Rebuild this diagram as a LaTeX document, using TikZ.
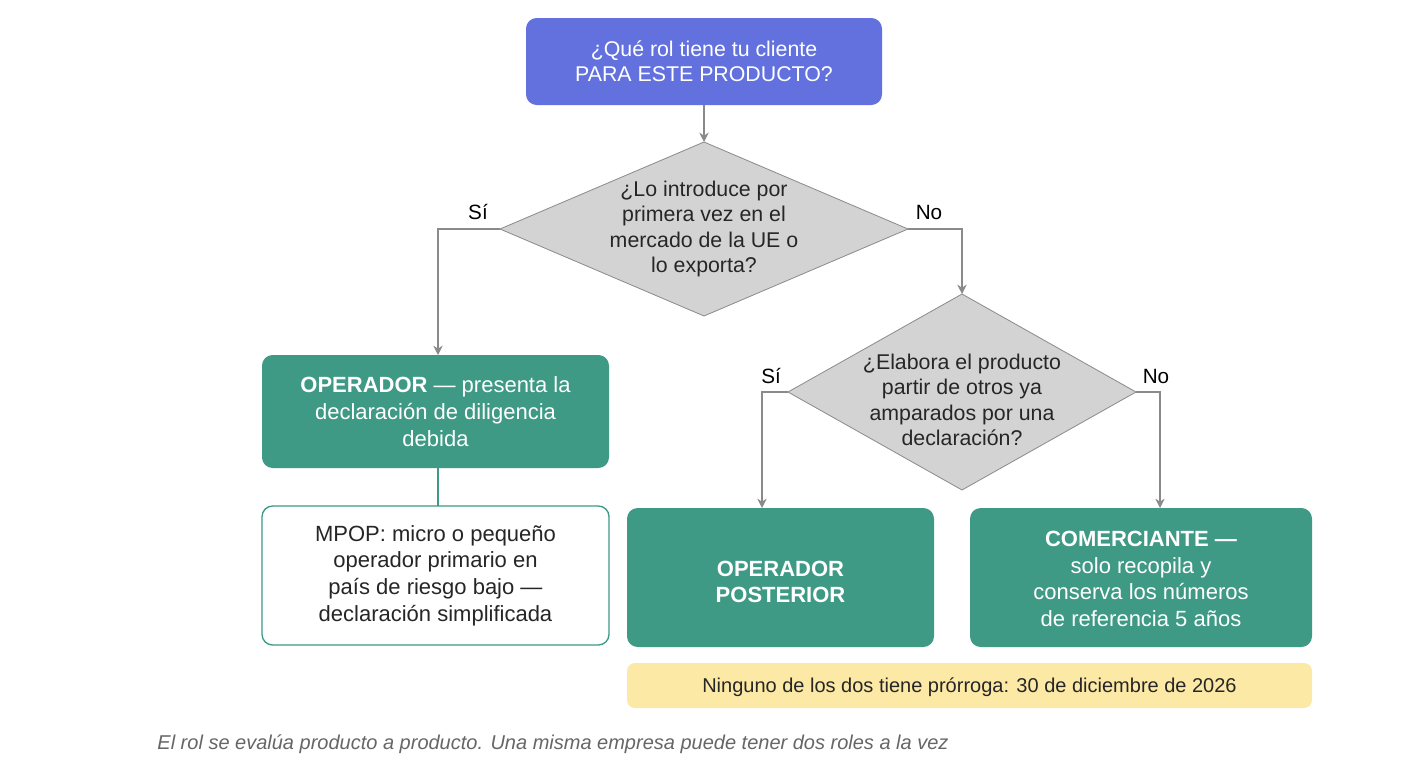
\documentclass[tikz,border=0pt]{standalone}
\usepackage{fontspec}
\setmainfont{Liberation Sans}
\usetikzlibrary{shapes.geometric,arrows.meta}
\definecolor{blu}{HTML}{6271DD}
\definecolor{teal}{HTML}{3E9985}
\definecolor{dgray}{HTML}{D3D3D3}
\definecolor{yel}{HTML}{FCE9A6}
\definecolor{lin}{HTML}{8A8A8A}
\begin{document}
\begin{tikzpicture}[x=0.75pt,y=-0.75pt,
  txt/.style={font=\fontsize{16}{19}\selectfont,align=center},
  box/.style={draw=none,rounded corners=8pt,inner sep=0pt},
  dia/.style={diamond,fill=dgray,draw=lin,line width=0.6pt,inner sep=0pt},
  con/.style={draw=lin,line width=1pt},
  arr/.style={con,-{Stealth[length=7pt,width=7pt]}},
  lab/.style={font=\fontsize{15.5}{18}\selectfont}]
\useasboundingbox (0,0) rectangle (1408,768);
\fill[white] (0,0) rectangle (1408,768);
% boxes
\filldraw[box,fill=blu] (526,18) rectangle (882,105);
\node[txt,text=white] (top) at (704,61.5) {¿Qué rol tiene tu cliente\\PARA ESTE PRODUCTO?};
\coordinate (topb) at (704,105);
\path[dia,draw=lin,fill=dgray] (500,229)--(704,142)--(908,229)--(704,316)--cycle;
\node[txt,text=black!85] (d1) at (704,229) {¿Lo introduce por\\primera vez en el\\mercado de la UE o\\lo exporta?};
\path[dia,draw=lin,fill=dgray] (788,392)--(962,294)--(1136,392)--(962,490)--cycle;
\node[txt,text=black!85] (d2) at (962,400) {¿Elabora el producto\\partir de otros ya\\amparados por una\\declaración?};
\filldraw[box,fill=teal] (262,355) rectangle (609,468);
\node[txt,text=white,font=\fontsize{16.5}{20}\selectfont] (op) at (435.5,411.5) {\textbf{OPERADOR} — presenta la\\declaración de diligencia\\debida};
\filldraw[box,fill=white,draw=teal,line width=1pt] (262,506) rectangle (609,645);
\node[txt,text=black!85,font=\fontsize{16.5}{20}\selectfont] (mp) at (435.5,575.5) {MPOP: micro o pequeño\\operador primario en\\país de riesgo bajo —\\declaración simplificada};
\filldraw[box,fill=teal] (627,508) rectangle (934,647);
\node[txt,text=white,font=\fontsize{16.5}{20}\bfseries\selectfont] (pos) at (780.5,582) {OPERADOR\\POSTERIOR};
\filldraw[box,fill=teal] (970,508) rectangle (1312,647);
\node[txt,text=white,font=\fontsize{16.5}{20}\selectfont] (com) at (1141,579) {\textbf{COMERCIANTE —}\\solo recopila y\\conserva los números\\de referencia 5 años};
\filldraw[box,fill=yel,rounded corners=6pt] (627,663) rectangle (1312,708);
\node[txt,text=black!85,font=\fontsize{15}{18}\selectfont] (note) at (969.5,687) {Ninguno de los dos tiene prórroga: 30 de diciembre de 2026};
\node[text=black!60,font=\fontsize{15}{18}\itshape\selectfont] (cap) at (553,744) {El rol se evalúa producto a producto. Una misma empresa puede tener dos roles a la vez};
% connectors
\coordinate (d1t) at (704,142); \coordinate (d1l) at (500,229); \coordinate (d1r) at (908,229);
\coordinate (d2t) at (962,294); \coordinate (d2l) at (788,392); \coordinate (d2r) at (1136,392);
\draw[arr] (topb)--(d1t);
\draw[arr] (d1l)--(438,229)--(438,355);
\draw[arr] (d1r)--(962,229)--(d2t);
\draw[arr] (d2l)--(762,392)--(762,508);
\draw[arr] (d2r)--(1160,392)--(1160,508);
\draw[draw=teal,line width=1pt] (438,468)--(438,506);
\node[lab] (s1) at (478,212) {Sí};
\node[lab] (n1) at (929,212) {No};
\node[lab] (s2) at (771,376) {Sí};
\node[lab] (n2) at (1156,376) {No};
\end{tikzpicture}
\end{document}
